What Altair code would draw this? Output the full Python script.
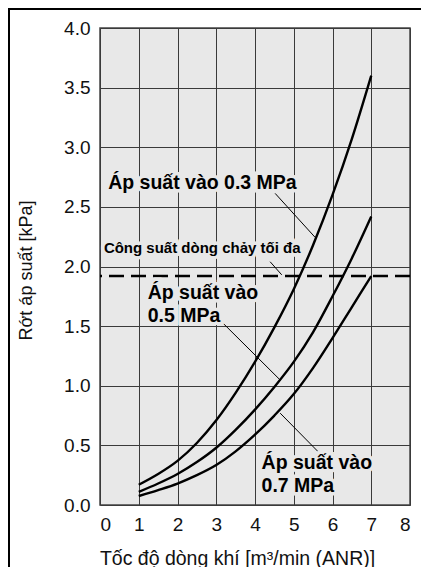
import altair as alt
import pandas as pd

# ---- data ----
flow = [1, 1.5, 2, 2.5, 3, 3.5, 4, 4.5, 5, 5.5, 6, 6.5, 7]
drop_03 = [0.17, 0.26, 0.37, 0.52, 0.71, 0.94, 1.20, 1.49, 1.81, 2.18, 2.60, 3.07, 3.60]
drop_05 = [0.11, 0.18, 0.26, 0.36, 0.48, 0.63, 0.80, 0.99, 1.20, 1.45, 1.75, 2.07, 2.42]
drop_07 = [0.075, 0.125, 0.18, 0.25, 0.335, 0.45, 0.59, 0.75, 0.93, 1.15, 1.40, 1.66, 1.92]
series_names = ["0.3 MPa", "0.5 MPa", "0.7 MPa"]

max_flow_line = 1.92

x_ticks = [0, 1, 2, 3, 4, 5, 6, 7, 8]
y_ticks = [0.0, 0.5, 1.0, 1.5, 2.0, 2.5, 3.0, 3.5, 4.0]

label_text = ["Áp suất vào 0.3 MPa", "Công suất dòng chảy tối đa",
              "Áp suất vào", "0.5 MPa", "Áp suất vào", "0.7 MPa"]
label_x = [0.21, 0.10, 1.23, 1.23, 4.17, 4.17]
label_y = [2.70, 2.155, 1.775, 1.587, 0.35, 0.16]
label_size = [19.5, 15, 19.5, 19.5, 19.5, 19.5]

lead_x = [4.52, 4.39, 3.18, 4.65]
lead_y = [2.613, 2.04, 1.523, 0.77]
lead_x2 = [5.55, 4.69, 4.65, 5.62]
lead_y2 = [2.245, 1.93, 1.048, 0.45]

x_title = "Tốc độ dòng khí [m³/min (ANR)]"
y_title = "Rớt áp suất [kPa]"

FONT = "Liberation Sans"
BG = "#e8e8e8"

rows = []
for name, vals in zip(series_names, [drop_03, drop_05, drop_07]):
    for q, v in zip(flow, vals):
        rows.append({"series": name, "flow": q, "drop": v})
curves_df = pd.DataFrame(rows)

xs = alt.Scale(domain=[0, 8], nice=False, zero=False)
ys = alt.Scale(domain=[0, 4], nice=False, zero=False)

x_axis = alt.Axis(values=x_ticks, format="d", grid=True, gridColor="#3a3a3a", gridWidth=1,
                  ticks=False, domain=False, labelOverlap=False,
                  labelFont=FONT, labelFontSize=19,
                  labelColor="#111", labelPadding=10, title=x_title, titleFont=FONT,
                  titleFontSize=19.5, titleFontWeight="normal", titleColor="#111",
                  titleX=137, titleY=59, titleAnchor="middle", titleBaseline="alphabetic")
y_axis = alt.Axis(values=y_ticks, format=".1f", grid=True, gridColor="#3a3a3a", gridWidth=1,
                  ticks=False, domain=False, labelOverlap=False,
                  labelFont=FONT, labelFontSize=19,
                  labelColor="#111", labelPadding=10, title=y_title, titleFont=FONT,
                  titleFontSize=18, titleFontWeight="normal", titleColor="#111",
                  titleX=-74, titleY=242, titleAngle=270, titleAlign="center",
                  titleBaseline="middle")


def X(field):
    return alt.X(field, scale=xs, axis=x_axis)


def Y(field):
    return alt.Y(field, scale=ys, axis=y_axis)


curves = alt.Chart(curves_df).mark_line(color="black", strokeWidth=2.4,
                                        interpolate="monotone").encode(
    x=X("flow:Q"), y=Y("drop:Q"), detail="series:N",
)

dash_df = pd.DataFrame({"y": [max_flow_line]})
dash = alt.Chart(dash_df).mark_rule(color="black", strokeWidth=2.6,
                                    strokeDash=[15, 7]).encode(y=Y("y:Q"))

lead_df = pd.DataFrame({"x": lead_x, "y": lead_y, "x2": lead_x2, "y2": lead_y2})
leads = alt.Chart(lead_df).mark_rule(color="black", strokeWidth=1).encode(
    x=X("x:Q"), y=Y("y:Q"), x2="x2:Q", y2="y2:Q")

lab_df = pd.DataFrame({"t": label_text, "x": label_x, "y": label_y, "s": label_size})
halo = alt.Chart(lab_df).mark_text(align="left", baseline="middle", font=FONT,
                                   fontWeight="bold", stroke=BG, strokeWidth=7,
                                   fill=BG).encode(
    x=X("x:Q"), y=Y("y:Q"), text="t:N",
    size=alt.Size("s:Q", scale=None, legend=None))
labels = alt.Chart(lab_df).mark_text(align="left", baseline="middle", font=FONT,
                                     fontWeight="bold", color="black").encode(
    x=X("x:Q"), y=Y("y:Q"), text="t:N",
    size=alt.Size("s:Q", scale=None, legend=None))

# outer frame (left and top edges)
frame_df = pd.DataFrame({"k": [0]})
frame_left = alt.Chart(frame_df).mark_rule(color="black", strokeWidth=2).encode(
    x=alt.value(-91), y=alt.value(-19), y2=alt.value(560))
frame_top = alt.Chart(frame_df).mark_rule(color="black", strokeWidth=2).encode(
    x=alt.value(-92), x2=alt.value(330), y=alt.value(-19))

chart = alt.layer(curves, dash, leads, halo, labels, frame_left, frame_top).properties(
    width=310, height=477,
    autosize=alt.AutoSizeParams(type="none"),
    padding={"left": 92, "top": 20, "right": 11, "bottom": 62},
    background="white",
).configure_view(fill=BG, stroke="#444", strokeWidth=1.5)

chart.save("out.html", embed_options={"renderer": "svg", "actions": False})
